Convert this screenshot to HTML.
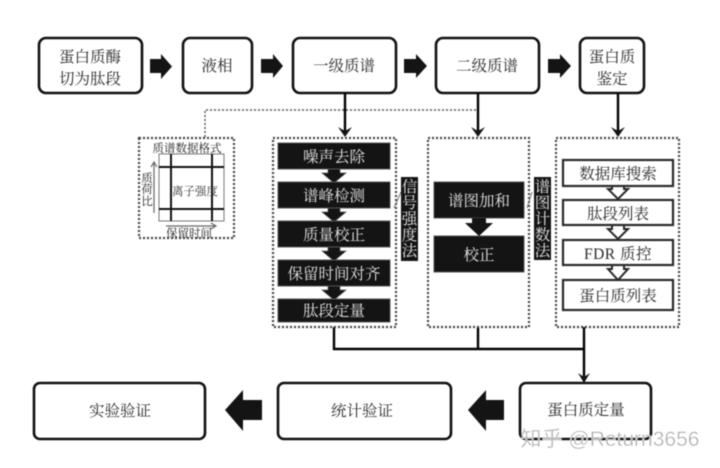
<!DOCTYPE html>
<html><head><meta charset="utf-8"><style>
html,body{margin:0;padding:0;background:#fff;width:720px;height:468px;overflow:hidden}
svg{display:block;filter:blur(.45px)}
text{font-family:"Liberation Serif","Noto Serif CJK SC",serif;text-anchor:middle}
.b{fill:#fff;stroke:#111;stroke-width:2.6}
.t{fill:#2a2a2a;font-size:15.5px}
.d{fill:none;stroke:#444;stroke-width:2.2;stroke-dasharray:2 2}
.k{fill:#141414;stroke:#555;stroke-width:1}
.w{fill:#e4e4e4;font-size:15.5px}
.l{stroke:#000;stroke-width:2.4;fill:none}
.a{fill:#141414}
.p{fill:#fff;stroke:#2a2a2a;stroke-width:2.2}
</style></head><body>
<svg width="720" height="468" viewBox="0 0 720 468" xmlns="http://www.w3.org/2000/svg">
<rect width="720" height="468" fill="#fff"/>
<!-- top boxes -->
<rect class="b" x="39" y="38" width="103" height="55" rx="7"/>
<text class="t" x="90" y="62">蛋白质酶</text><text class="t" x="90" y="84">切为肽段</text>
<rect class="b" x="183" y="38" width="69" height="55" rx="7"/>
<text class="t" x="217" y="71">液相</text>
<rect class="b" x="293" y="38" width="103" height="55" rx="7"/>
<text class="t" x="344" y="71">一级质谱</text>
<rect class="b" x="436" y="38" width="103" height="55" rx="7"/>
<text class="t" x="487" y="71">二级质谱</text>
<rect class="b" x="580" y="38" width="64" height="55" rx="7"/>
<text class="t" x="612" y="62">蛋白质</text><text class="t" x="612" y="84">鉴定</text>
<!-- block arrows -->
<path class="a" d="M150 59H161V54L172 66.500L161 79V73H150Z"/>
<path class="a" d="M261 59H273V54L283 66L273 78V73H261Z"/>
<path class="a" d="M404 59H416V54L427 66L416 78V73H404Z"/>
<path class="a" d="M548 59H560V54L571 66L560 78V73H548Z"/>
<!-- dashed link -->
<path d="M205 137V110H476" fill="none" stroke="#555" stroke-width="1.500" stroke-dasharray="2 2"/>
<!-- connectors -->
<path class="l" d="M345 93V135"/><path class="a" d="M338 127L345 131L352 127L345 137Z"/>
<path class="l" d="M478 93V135"/><path class="a" d="M471 127L478 131L485 127L478 137Z"/>
<path class="l" d="M618 93V135"/><path class="a" d="M611 127L618 131L625 127L618 137Z"/>
<path class="l" d="M334 327V349H585M478 327V349M584 327V381"/>
<path class="a" d="M578 373L584 377L590 373L584 383Z"/>
<!-- format panel -->
<rect class="d" x="139" y="138" width="95" height="100"/>
<text x="187" y="152" fill="#222" font-size="11.500">质谱数据格式</text>
<rect x="159" y="154" width="65" height="67" fill="#fff" stroke="#777" stroke-width="1"/>
<path d="M171 154V221M212 154V221M159 167H224M159 209H224" stroke="#111" stroke-width="2"/>
<text x="195" y="195" fill="#333" font-size="11.500">离子强度</text>
<path d="M154 213V163M151 167L154 162L157 167" stroke="#666" fill="none" stroke-width="1.200"/>
<g fill="#222" font-size="11.500"><text x="147" y="182">质</text><text x="147" y="193">荷</text><text x="147" y="205">比</text></g>
<path d="M166 226H215M211 223L216 226L211 229" stroke="#666" fill="none" stroke-width="1.200"/>
<text x="189" y="237" fill="#222" font-size="11.500">保留时间</text>
<!-- middle panel -->
<rect class="d" x="273" y="138" width="123" height="189"/>
<g class="a" stroke="#555" stroke-width=".7">
<path d="M328 167H340V173H346L334 183L322 173H328Z"/>
<path d="M328 206H340V212H346L334 222L322 212H328Z"/>
<path d="M328 245H340V251H346L334 261L322 251H328Z"/>
<path d="M328 284H340V290H346L334 300L322 290H328Z"/>
</g>
<rect class="k" x="278" y="143" width="112" height="26"/><text class="w" x="334" y="162">噪声去除</text>
<rect class="k" x="278" y="182" width="112" height="26"/><text class="w" x="334" y="201">谱峰检测</text>
<rect class="k" x="278" y="221" width="112" height="26"/><text class="w" x="334" y="240">质量校正</text>
<rect class="k" x="278" y="260" width="112" height="26"/><text class="w" x="334" y="279">保留时间对齐</text>
<rect class="k" x="278" y="299" width="112" height="23"/><text class="w" x="334" y="316">肽段定量</text>
<path d="M394 208L401 192" stroke="#777" stroke-width="1"/>
<rect x="401" y="177" width="17" height="84" fill="#141414"/>
<g class="w"><text x="409.500" y="192">信</text><text x="409.500" y="208">号</text><text x="409.500" y="224">强</text><text x="409.500" y="240">度</text><text x="409.500" y="256">法</text></g>
<!-- second panel -->
<rect class="d" x="428" y="138" width="101" height="189"/>
<rect class="k" x="434" y="182" width="90" height="36"/><text class="w" x="479" y="206">谱图加和</text>
<rect class="k" x="434" y="236" width="90" height="36"/><text class="w" x="479" y="260">校正</text>
<path class="a" d="M472 218H486V223H493L479 236L465 223H472Z"/>
<path d="M527 208L532 192" stroke="#777" stroke-width="1"/>
<rect x="534" y="177" width="17" height="83" fill="#141414"/>
<g class="w"><text x="542.500" y="192">谱</text><text x="542.500" y="208">图</text><text x="542.500" y="224">计</text><text x="542.500" y="240">数</text><text x="542.500" y="256">法</text></g>
<!-- third panel -->
<rect class="d" x="556" y="138" width="123" height="189"/>
<g fill="#fff" stroke="#2a2a2a" stroke-width="2">
<path d="M612 186V189H608L618 199L628 189H624V186Z"/>
<path d="M612 225V229H608L618 239L628 229H624V225Z"/>
<path d="M612 265V269H608L618 280L628 269H624V265Z"/>
</g>
<path d="M612 186H624M612 225H624M612 265H624" stroke="#fff" stroke-width="1.500"/>
<rect class="p" x="563" y="160" width="110" height="26"/><text class="t" x="618" y="179">数据库搜索</text>
<rect class="p" x="563" y="200" width="110" height="25"/><text class="t" x="618" y="219">肽段列表</text>
<rect class="p" x="563" y="240" width="110" height="25"/><text class="t" x="618" y="259" font-size="14" letter-spacing=".5">FDR 质控</text>
<rect class="p" x="563" y="280" width="110" height="30"/><text class="t" x="618" y="301">蛋白质列表</text>
<!-- bottom boxes -->
<rect class="b" x="34" y="383" width="171" height="56" rx="6"/>
<text class="t" x="120" y="416">实验验证</text>
<rect class="b" x="278" y="383" width="173" height="56" rx="6"/>
<text class="t" x="362" y="416">统计验证</text>
<rect class="b" x="520" y="383" width="131" height="56" rx="6"/>
<text class="t" x="586" y="415">蛋白质定量</text>
<path class="a" d="M504 400H486V390L468 410L486 431V420H504Z"/>
<path class="a" d="M262 400H243V390L225 410L243 431V420H262Z"/>
<!-- watermark -->
<text x="610" y="446" font-size="21" fill="#adadad" stroke="#fff" stroke-width=".4" style="font-family:'Liberation Sans','Noto Sans CJK SC',sans-serif">知乎 @Return3656</text>
</svg>
</body></html>
